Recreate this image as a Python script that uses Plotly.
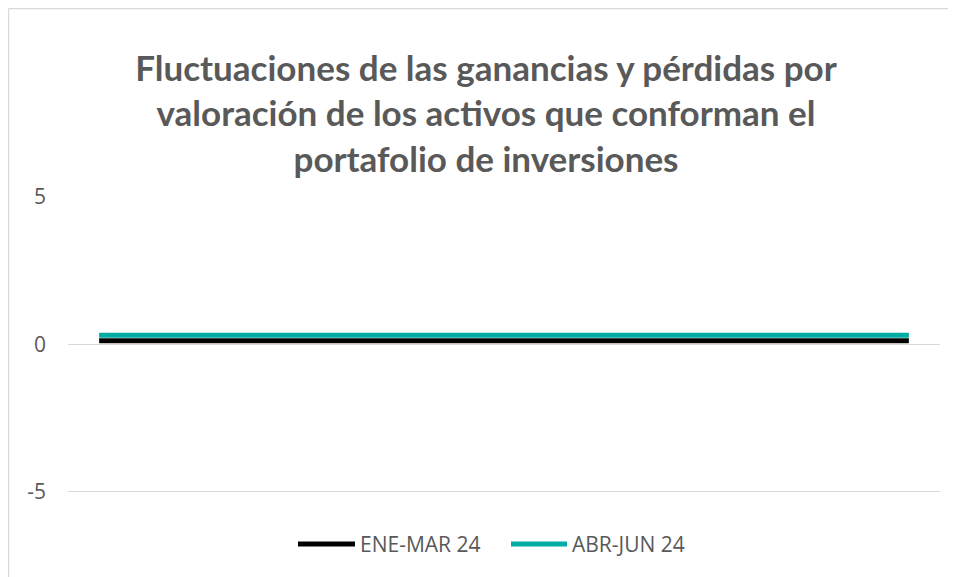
import plotly.graph_objects as go

categories = list(range(1, 15))
ene_mar_24 = [0.12, 0.12, 0.12, 0.12, 0.12, 0.12, 0.12, 0.12, 0.12, 0.12, 0.12, 0.12, 0.12, 0.12]
abr_jun_24 = [0.31, 0.31, 0.31, 0.31, 0.31, 0.31, 0.31, 0.31, 0.31, 0.31, 0.31, 0.31, 0.31, 0.31]
series_names = ["ENE-MAR 24", "ABR-JUN 24"]
series_colors = ["#000000", "#00ADA5"]
y_ticks = [-5, 0, 5]

title_text = ("Fluctuaciones de las ganancias y pérdidas por<br>"
              "valoración de los activos que conforman el<br>"
              "portafolio de inversiones")

W, H = 956, 577
L, T = 60, 189
R = W - 932
B = H - 513
pw, ph = W - L - R, H - T - B

def px(xf):
    return (xf - L) / pw

def py(yf):
    return (T + ph - yf) / ph

fig = go.Figure()
for vals, name, col in zip([ene_mar_24, abr_jun_24], series_names, series_colors):
    fig.add_trace(go.Scatter(x=categories, y=vals, mode="lines", name=name,
                             line=dict(color=col, width=5), showlegend=False))

fig.update_layout(
    width=W, height=H,
    margin=dict(l=L, r=R, t=T, b=B),
    paper_bgcolor="white", plot_bgcolor="white",
    title=dict(text=title_text, x=0.5, xanchor="center", y=0.874, yanchor="middle",
               font=dict(family="Lato", size=35, color="#595959", weight="bold")),
    showlegend=False,
    xaxis=dict(range=[0.5, 14.5], showgrid=False, showticklabels=False, zeroline=False,
               showline=False, ticks=""),
    yaxis=dict(range=[-6, 5], tickvals=y_ticks, ticktext=[str(v) for v in y_ticks],
               showgrid=True, gridcolor="#D9D9D9", gridwidth=1,
               zeroline=True, zerolinecolor="#D9D9D9", zerolinewidth=1,
               showline=False, ticks="", ticklabelstandoff=21,
               tickfont=dict(family="Open Sans", size=21, color="#595959")),
)

# custom legend (long swatches as in the original)
legend_y = 536
swatches = [(290, 347, 350), (503, 559, 562)]
for (x0, x1, xt), name, col in zip(swatches, series_names, series_colors):
    fig.add_shape(type="line", xref="paper", yref="paper", x0=px(x0), x1=px(x1),
                  y0=py(legend_y), y1=py(legend_y), line=dict(color=col, width=5))
    fig.add_annotation(xref="paper", yref="paper", x=px(xt), y=py(legend_y),
                       xanchor="left", yanchor="middle", showarrow=False, text=name,
                       font=dict(family="Open Sans", size=21, color="#595959"))

# chart-area border (cropped at right and bottom)
fig.add_shape(type="line", xref="paper", yref="paper", x0=px(0.5), x1=px(W + 10),
              y0=py(0.5), y1=py(0.5), line=dict(color="#D9D9D9", width=1.5))
fig.add_shape(type="line", xref="paper", yref="paper", x0=px(0.5), x1=px(0.5),
              y0=py(0.5), y1=py(H + 10), line=dict(color="#D9D9D9", width=1.5))

fig.write_html("out.html")
